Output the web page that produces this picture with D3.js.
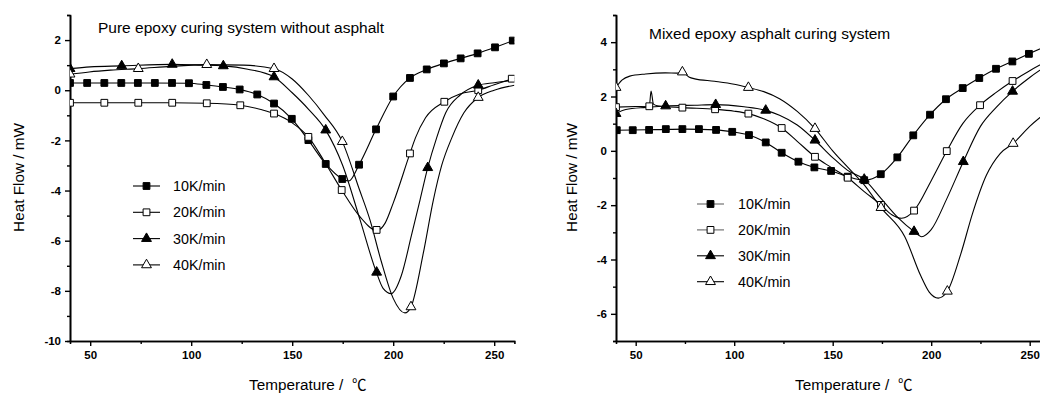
<!DOCTYPE html>
<html lang="en">
<head>
<meta charset="UTF-8">
<title>DSC curves</title>
<style>
  body { margin: 0; background: #fff; }
  svg { display: block; font-family: Arial, "Liberation Sans", sans-serif; }
  .tick text { font-weight: bold; font-size: 11.5px; }
</style>
</head>
<body>
<div id="chart"></div>
<script src="https://d3js.org/d3.v7.min.js"></script>
<script>
// heating rates (legend)
const rates = ['10K/min', '20K/min', '30K/min', '40K/min']
const markerType = ['fsquare', 'osquare', 'ftri', 'otri']

// ---- pure epoxy (left) : [temperature, heat flow]
const pure10Curve = [[40,0.29],[70,0.29],[99,0.28],[107.5,0.21],[115.7,0.13],[124,0.03],[132.7,-0.17],[141,-0.53],[149.8,-1.14],[158,-1.99],[166.6,-2.94],[174.8,-3.54],[178,-3.62],[183.1,-2.97],[191.5,-1.56],[200,-0.25],[208.3,0.49],[216.6,0.83],[225.1,1.07],[233.4,1.27],[241.8,1.47],[250.4,1.71],[260,2.0]]
const pure10Marks = [[40,0.29],[48.5,0.29],[57,0.29],[65.4,0.29],[73.6,0.29],[82,0.29],[90.5,0.29],[98.9,0.28],[107.5,0.21],[115.7,0.13],[124,0.03],[132.7,-0.17],[141,-0.53],[149.8,-1.14],[158,-1.99],[166.6,-2.94],[174.8,-3.54],[183.1,-2.97],[191.5,-1.56],[200,-0.25],[208.3,0.49],[216.6,0.83],[225.1,1.07],[233.4,1.27],[241.8,1.47],[250.4,1.71],[259.2,1.98]]
const pure20Curve = [[40,-0.5],[90,-0.5],[107.7,-0.52],[124.3,-0.6],[135,-0.78],[141,-0.93],[150,-1.3],[158,-1.86],[166,-2.85],[174.5,-3.98],[183.5,-5.04],[191.8,-5.6],[196,-5.3],[200,-4.5],[208.3,-2.52],[211,-1.9],[216,-1.1],[225.3,-0.46],[233,-0.15],[242.1,0.0],[250,0.22],[260,0.48]]
const pure20Marks = [[40,-0.5],[57,-0.5],[73.8,-0.5],[90.6,-0.5],[107.7,-0.52],[124.3,-0.6],[141,-0.93],[158,-1.86],[174.5,-3.98],[191.8,-5.57],[208.3,-2.52],[225.3,-0.46],[242.1,0.0],[258.7,0.46]]
const pure30Curve = [[40,0.86],[50,0.93],[65.6,0.97],[90.6,1.03],[105,1.0],[115.9,0.97],[128,0.84],[141,0.53],[150,-0.1],[158,-0.75],[166.6,-1.59],[175,-3.0],[183.6,-5.17],[191.5,-7.22],[195,-7.9],[199,-8.11],[204,-7.4],[209,-5.8],[213.3,-4.37],[217.1,-3.09],[221.5,-1.9],[226,-0.9],[233,-0.2],[242.1,0.2],[250,0.3],[260,0.4]]
const pure30Marks = [[40,0.86],[65.6,0.97],[90.6,1.03],[115.9,0.97],[141,0.53],[166.6,-1.59],[191.8,-7.26],[217.1,-3.09],[242.1,0.2]]
const pure40Curve = [[40,0.64],[49.5,0.73],[60,0.8],[73.8,0.86],[90,0.95],[107.7,1.02],[126,1.0],[141,0.86],[150,0.45],[158,-0.2],[166,-1.0],[174.8,-2.05],[183,-3.9],[188.5,-5.17],[194,-6.8],[200,-8.3],[205.8,-8.88],[208.8,-8.64],[214.9,-6.5],[219.9,-4.37],[224,-3.0],[229,-1.9],[235,-0.9],[242.1,-0.29],[250,0.0],[260,0.2]]
const pure40Marks = [[40,0.64],[73.8,0.86],[107.7,1.02],[141,0.86],[174.8,-2.05],[208.8,-8.64],[242.1,-0.29]]

// ---- mixed epoxy asphalt (right)
const mix10Curve = [[40,0.76],[60,0.78],[75,0.8],[90.8,0.77],[99,0.7],[107.5,0.58],[116,0.31],[124.1,-0.07],[132.6,-0.4],[140.7,-0.61],[149.2,-0.74],[157.6,-0.95],[166,-1.08],[174.4,-0.86],[182.8,-0.24],[190.9,0.57],[199.4,1.33],[207.5,1.9],[216,2.31],[224.4,2.68],[232.9,3.02],[241.2,3.29],[249.6,3.57],[260,3.9]]
const mix10Marks = [[40.4,0.76],[48.5,0.76],[56.8,0.77],[65.3,0.8],[73.7,0.8],[82.1,0.8],[90.8,0.77],[99,0.7],[107.5,0.58],[116,0.31],[124.1,-0.07],[132.6,-0.4],[140.7,-0.61],[149.2,-0.74],[157.6,-0.95],[166,-1.08],[174.4,-0.86],[182.8,-0.24],[190.9,0.57],[199.4,1.33],[207.5,1.9],[216,2.31],[224.4,2.68],[232.9,3.02],[241.2,3.29],[249.6,3.57],[258,3.85]]
const mix20Curve = [[40,1.61],[50,1.63],[56.9,1.64],[57.8,2.2],[59,1.72],[61,1.66],[73.7,1.59],[90.3,1.53],[100,1.46],[107.2,1.37],[115,1.18],[124.1,0.84],[132,0.35],[141,-0.22],[149,-0.6],[157.6,-0.99],[166,-1.5],[174.5,-1.99],[180,-2.35],[185,-2.48],[191.3,-2.2],[200,-1.1],[207.9,-0.01],[216,1.0],[224.8,1.68],[233,2.15],[241.3,2.57],[250,2.95],[260,3.35]]
const mix20Marks = [[40,1.61],[56.9,1.64],[73.7,1.59],[90.3,1.53],[107.2,1.37],[124.1,0.84],[141,-0.22],[157.6,-0.99],[174.5,-1.99],[191.3,-2.2],[207.9,-0.01],[224.8,1.68],[241.3,2.57]]
const mix30Curve = [[40,1.37],[45,1.52],[55,1.6],[65.2,1.65],[80,1.68],[90.6,1.7],[105,1.62],[116,1.49],[123,1.31],[132,0.95],[141,0.39],[150,-0.25],[157.6,-0.72],[166,-1.05],[174.5,-1.75],[183,-2.45],[191.3,-2.97],[195.2,-3.16],[200,-2.9],[208,-1.75],[216.3,-0.4],[225,0.9],[233,1.6],[241.3,2.19],[250,2.7],[260,3.2]]
const mix30Marks = [[40,1.37],[65.2,1.65],[90.6,1.7],[116,1.49],[141,0.39],[166,-1.05],[191.3,-2.97],[216.3,-0.4],[241.3,2.19]]
const mix40Curve = [[40,2.33],[43,2.6],[47,2.75],[55,2.83],[65,2.87],[71,2.86],[73.7,2.9],[77,2.72],[80,2.65],[90,2.56],[100,2.45],[107.2,2.33],[115,2.18],[123,1.92],[132,1.45],[141,0.82],[150,0.0],[157.6,-0.6],[166,-1.25],[174.5,-2.09],[186.6,-3.16],[194.7,-4.6],[199,-5.2],[203.6,-5.42],[208.2,-5.17],[215,-3.8],[221,-2.3],[228,-0.9],[235,-0.1],[241.6,0.27],[250,0.9],[260,1.5]]
const mix40Marks = [[40,2.33],[73.7,2.9],[107.2,2.33],[141,0.82],[174.5,-2.09],[208.2,-5.17],[241.6,0.27]]

// ticks
const xTicks = [50, 100, 150, 200, 250]
const xMinor = [75, 125, 175, 225]
const pureYTicks = [-10, -8, -6, -4, -2, 0, 2]
const pureYMinor = [-9, -7, -5, -3, -1, 1, 3]
const mixYTicks = [-6, -4, -2, 0, 2, 4]
const mixYMinor = [-7, -5, -3, -1, 1, 3, 5]

const width = 1040
const height = 396
const svg = d3.select('#chart').append('svg')
    .attr('width', width)
    .attr('height', height)

function drawPanel(o) {
    const x = d3.scaleLinear().domain([40, 260]).range(o.xr)
    const y = d3.scaleLinear().domain(o.yd).range([341, 15])
    const g = svg.append('g')
    const fmt = d => String(d)   // plain hyphen minus like the original

    g.append('clipPath').attr('id', o.id)
        .append('rect')
        .attr('x', o.xr[0]).attr('y', 0)
        .attr('width', o.xr[1] - o.xr[0]).attr('height', 341)

    // minor ticks
    g.append('g').attr('transform', 'translate(0,341)')
        .call(d3.axisBottom(x).tickValues(xMinor).tickSize(3).tickFormat(''))
    g.append('g').attr('transform', `translate(${o.xr[0]},0)`)
        .call(d3.axisLeft(y).tickValues(o.yMinor).tickSize(3).tickFormat(''))
    // major ticks
    g.append('g').attr('transform', 'translate(0,341)')
        .call(d3.axisBottom(x).tickValues(xTicks).tickFormat(fmt).tickSize(5).tickSizeOuter(0).tickPadding(5))
    g.append('g').attr('transform', `translate(${o.xr[0]},0)`)
        .call(d3.axisLeft(y).tickValues(o.yTicks).tickFormat(fmt).tickSize(5).tickSizeOuter(0).tickPadding(4))
    g.selectAll('.domain').attr('stroke-width', 1.6)
    g.selectAll('.tick line').attr('stroke-width', 1.4)

    const line = d3.line()
        .x(d => x(d[0])).y(d => y(d[1]))
        .curve(d3.curveMonotoneX)

    const plot = g.append('g').attr('clip-path', `url(#${o.id})`)
    o.series.forEach(s => {
        plot.append('path')
            .attr('d', line(s.curve))
            .attr('fill', 'none')
            .attr('stroke', '#000')
            .attr('stroke-width', 1.1)
    })
    o.series.forEach((s, i) => {
        s.marks.forEach(d => marker(plot, markerType[i], x(d[0]), y(d[1])))
    })

    // title
    g.append('text')
        .attr('x', o.title[1]).attr('y', o.title[2])
        .attr('font-size', 15.5)
        .text(o.title[0])

    // legend
    rates.forEach((r, i) => {
        const ly = o.leg[2] + i * o.leg[3]
        g.append('line')
            .attr('x1', o.leg[0]).attr('x2', o.leg[0] + 27)
            .attr('y1', ly).attr('y2', ly)
            .attr('stroke', o.legGray && i < 2 ? '#666' : '#000')
            .attr('stroke-width', 1.1)
        marker(g, markerType[i], o.leg[0] + 13.5, ly)
        g.append('text')
            .attr('x', o.leg[1]).attr('y', ly + 5)
            .attr('font-size', 14.3)
            .text(r)
    })

    // axis titles
    g.append('text')
        .attr('transform', `translate(${o.yLab},177.5) rotate(-90)`)
        .attr('text-anchor', 'middle')
        .attr('font-size', 15.3)
        .text('Heat Flow / mW')
    const xt = g.append('text')
        .attr('x', o.xr[0] + 179).attr('y', 390)
        .attr('font-size', 15.3)
    xt.append('tspan').text('Temperature /\u00A0\u00A0')
    xt.append('tspan')
        .attr('font-family', '"Noto Sans CJK SC", sans-serif')
        .attr('font-size', 14.5)
        .text('℃')
}

function marker(g, type, cx, cy) {
    const tri = type.endsWith('tri')
    const sym = d3.symbol().type(tri ? d3.symbolTriangle : d3.symbolSquare).size(tri ? 42 : 46)
    g.append('path')
        .attr('d', sym())
        .attr('transform', `translate(${cx},${cy})`)
        .attr('fill', type[0] === 'f' ? '#000' : '#fff')
        .attr('stroke', '#000')
        .attr('stroke-width', 1)
}

drawPanel({
    id: 'clipPure',
    xr: [70, 514.4],
    yd: [-10, 3],
    yTicks: pureYTicks,
    yMinor: pureYMinor,
    series: [
        { curve: pure10Curve, marks: pure10Marks },
        { curve: pure20Curve, marks: pure20Marks },
        { curve: pure30Curve, marks: pure30Marks },
        { curve: pure40Curve, marks: pure40Marks }
    ],
    title: ['Pure epoxy curing system without asphalt', 98, 33],
    leg: [133, 173, 186, 26.3],
    yLab: 24
})

drawPanel({
    id: 'clipMix',
    xr: [616, 1049.4],
    yd: [-7, 5],
    yTicks: mixYTicks,
    yMinor: mixYMinor,
    series: [
        { curve: mix10Curve, marks: mix10Marks },
        { curve: mix20Curve, marks: mix20Marks },
        { curve: mix30Curve, marks: mix30Marks },
        { curve: mix40Curve, marks: mix40Marks }
    ],
    title: ['Mixed epoxy asphalt curing system', 649, 39],
    leg: [697, 738, 204, 25.9],
    legGray: true,
    yLab: 577
})
</script>
</body>
</html>
